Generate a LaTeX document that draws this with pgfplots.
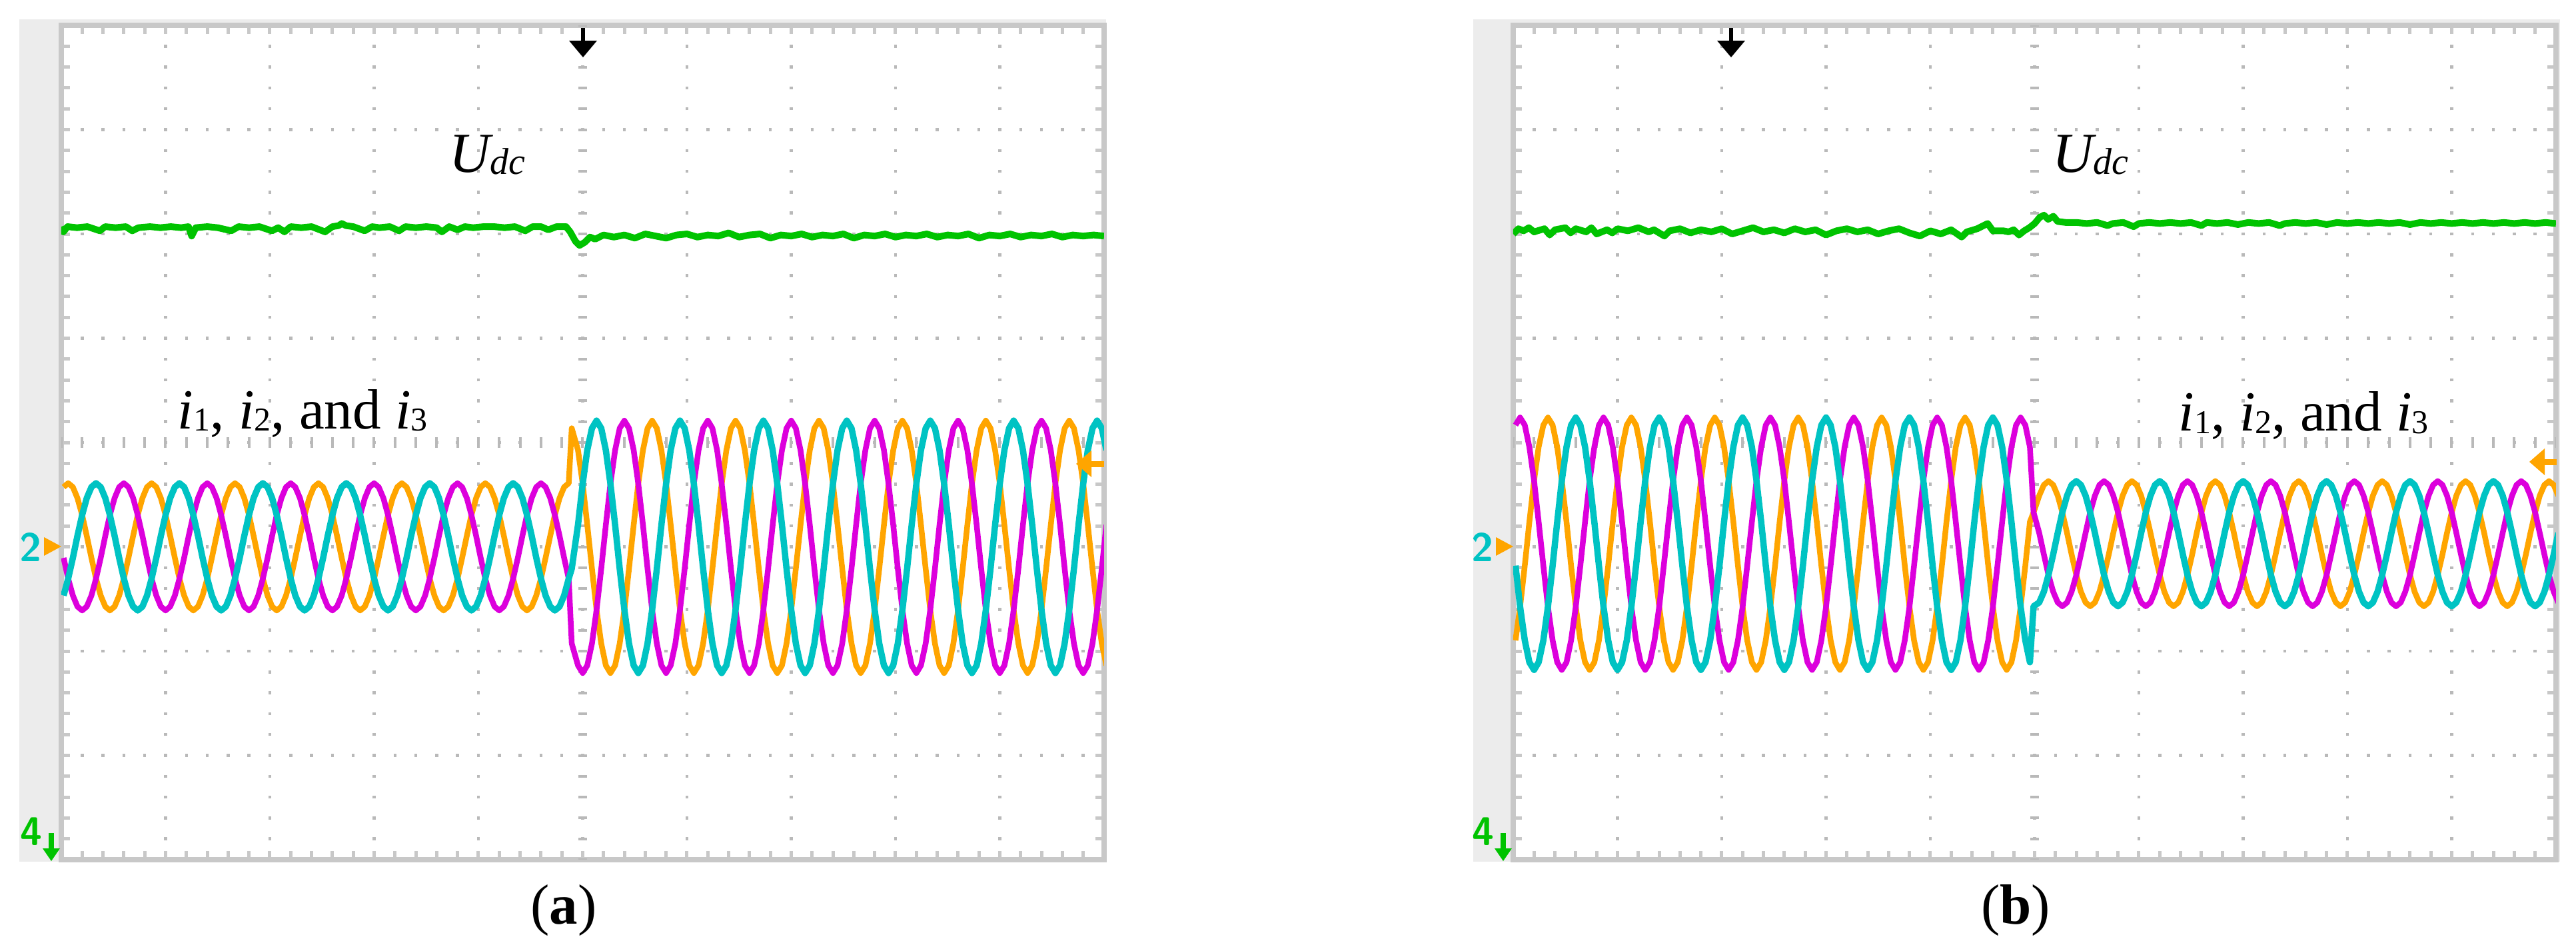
\documentclass[border=0pt]{standalone}
\usepackage{pgfplots}
\pgfplotsset{compat=1.18}
\usepackage{pgfplotstable}
\usepackage{fontspec}
\setmainfont{Liberation Serif}
\definecolor{cOr}{RGB}{255,165,0}
\definecolor{cTe}{RGB}{0,195,195}
\definecolor{cMa}{RGB}{220,0,220}
\definecolor{cGr}{RGB}{0,195,0}
\definecolor{cFr}{RGB}{200,200,200}
\definecolor{cDot}{RGB}{185,185,185}
\definecolor{cBg}{RGB}{236,236,236}

\pgfplotstableread{
x o t m
0.022 -0.427 -1.467 -1.106
0.066 -0.390 -1.305 -1.305
0.111 -0.427 -1.106 -1.467
0.155 -0.533 -0.894 -1.573
0.200 -0.695 -0.695 -1.610
0.244 -0.894 -0.533 -1.573
0.289 -1.106 -0.427 -1.467
0.333 -1.305 -0.390 -1.305
0.378 -1.467 -0.427 -1.106
0.422 -1.573 -0.533 -0.894
0.466 -1.610 -0.695 -0.695
0.511 -1.573 -0.894 -0.533
0.555 -1.467 -1.106 -0.427
0.600 -1.305 -1.305 -0.390
0.644 -1.106 -1.467 -0.427
0.689 -0.894 -1.573 -0.533
0.733 -0.695 -1.610 -0.695
0.778 -0.533 -1.573 -0.894
0.822 -0.427 -1.467 -1.106
0.866 -0.390 -1.305 -1.305
0.911 -0.427 -1.106 -1.467
0.955 -0.533 -0.894 -1.573
1.000 -0.695 -0.695 -1.610
1.044 -0.894 -0.533 -1.573
1.089 -1.106 -0.427 -1.467
1.133 -1.305 -0.390 -1.305
1.178 -1.467 -0.427 -1.106
1.222 -1.573 -0.533 -0.894
1.266 -1.610 -0.695 -0.695
1.311 -1.573 -0.894 -0.533
1.355 -1.467 -1.106 -0.427
1.400 -1.305 -1.305 -0.390
1.444 -1.106 -1.467 -0.427
1.489 -0.894 -1.573 -0.533
1.533 -0.695 -1.610 -0.695
1.578 -0.533 -1.573 -0.894
1.622 -0.427 -1.467 -1.106
1.666 -0.390 -1.305 -1.305
1.711 -0.427 -1.106 -1.467
1.755 -0.533 -0.894 -1.573
1.800 -0.695 -0.695 -1.610
1.844 -0.894 -0.533 -1.573
1.889 -1.106 -0.427 -1.467
1.933 -1.305 -0.390 -1.305
1.978 -1.467 -0.427 -1.106
2.022 -1.573 -0.533 -0.894
2.066 -1.610 -0.695 -0.695
2.111 -1.573 -0.894 -0.533
2.155 -1.467 -1.106 -0.427
2.200 -1.305 -1.305 -0.390
2.244 -1.106 -1.467 -0.427
2.289 -0.894 -1.573 -0.533
2.333 -0.695 -1.610 -0.695
2.378 -0.533 -1.573 -0.894
2.422 -0.427 -1.467 -1.106
2.466 -0.390 -1.305 -1.305
2.511 -0.427 -1.106 -1.467
2.555 -0.533 -0.894 -1.573
2.600 -0.695 -0.695 -1.610
2.644 -0.894 -0.533 -1.573
2.689 -1.106 -0.427 -1.467
2.733 -1.305 -0.390 -1.305
2.778 -1.467 -0.427 -1.106
2.822 -1.573 -0.533 -0.894
2.866 -1.610 -0.695 -0.695
2.911 -1.573 -0.894 -0.533
2.955 -1.467 -1.106 -0.427
3.000 -1.305 -1.305 -0.390
3.044 -1.106 -1.467 -0.427
3.089 -0.894 -1.573 -0.533
3.133 -0.695 -1.610 -0.695
3.178 -0.533 -1.573 -0.894
3.222 -0.427 -1.467 -1.106
3.266 -0.390 -1.305 -1.305
3.311 -0.427 -1.106 -1.467
3.355 -0.533 -0.894 -1.573
3.400 -0.695 -0.695 -1.610
3.444 -0.894 -0.533 -1.573
3.489 -1.106 -0.427 -1.467
3.533 -1.305 -0.390 -1.305
3.578 -1.467 -0.427 -1.106
3.622 -1.573 -0.533 -0.894
3.666 -1.610 -0.695 -0.695
3.711 -1.573 -0.894 -0.533
3.755 -1.467 -1.106 -0.427
3.800 -1.305 -1.305 -0.390
3.844 -1.106 -1.467 -0.427
3.889 -0.894 -1.573 -0.533
3.933 -0.695 -1.610 -0.695
3.978 -0.533 -1.573 -0.894
4.022 -0.427 -1.467 -1.106
4.066 -0.390 -1.305 -1.305
4.111 -0.427 -1.106 -1.467
4.155 -0.533 -0.894 -1.573
4.200 -0.695 -0.695 -1.610
4.244 -0.894 -0.533 -1.573
4.289 -1.106 -0.427 -1.467
4.333 -1.305 -0.390 -1.305
4.378 -1.467 -0.427 -1.106
4.422 -1.573 -0.533 -0.894
4.466 -1.610 -0.695 -0.695
4.511 -1.573 -0.894 -0.533
4.555 -1.467 -1.106 -0.427
4.600 -1.305 -1.305 -0.390
4.644 -1.106 -1.467 -0.427
4.689 -0.894 -1.573 -0.533
4.733 -0.695 -1.610 -0.695
4.778 -0.533 -1.573 -0.894
4.822 -0.427 -1.467 -1.106
4.866 -0.390 -1.305 -1.305
4.895 0.137 -1.210 -1.927
4.955 -0.073 -0.790 -2.137
5.000 -0.395 -0.395 -2.210
5.044 -0.790 -0.073 -2.137
5.089 -1.210 0.137 -1.927
5.133 -1.605 0.210 -1.605
5.178 -1.927 0.137 -1.210
5.222 -2.137 -0.073 -0.790
5.266 -2.210 -0.395 -0.395
5.311 -2.137 -0.790 -0.073
5.355 -1.927 -1.210 0.137
5.400 -1.605 -1.605 0.210
5.444 -1.210 -1.927 0.137
5.489 -0.790 -2.137 -0.073
5.533 -0.395 -2.210 -0.395
5.578 -0.073 -2.137 -0.790
5.622 0.137 -1.927 -1.210
5.666 0.210 -1.605 -1.605
5.711 0.137 -1.210 -1.927
5.755 -0.073 -0.790 -2.137
5.800 -0.395 -0.395 -2.210
5.844 -0.790 -0.073 -2.137
5.889 -1.210 0.137 -1.927
5.933 -1.605 0.210 -1.605
5.978 -1.927 0.137 -1.210
6.022 -2.137 -0.073 -0.790
6.066 -2.210 -0.395 -0.395
6.111 -2.137 -0.790 -0.073
6.155 -1.927 -1.210 0.137
6.200 -1.605 -1.605 0.210
6.244 -1.210 -1.927 0.137
6.289 -0.790 -2.137 -0.073
6.333 -0.395 -2.210 -0.395
6.378 -0.073 -2.137 -0.790
6.422 0.137 -1.927 -1.210
6.466 0.210 -1.605 -1.605
6.511 0.137 -1.210 -1.927
6.555 -0.073 -0.790 -2.137
6.600 -0.395 -0.395 -2.210
6.644 -0.790 -0.073 -2.137
6.689 -1.210 0.137 -1.927
6.733 -1.605 0.210 -1.605
6.778 -1.927 0.137 -1.210
6.822 -2.137 -0.073 -0.790
6.866 -2.210 -0.395 -0.395
6.911 -2.137 -0.790 -0.073
6.955 -1.927 -1.210 0.137
7.000 -1.605 -1.605 0.210
7.044 -1.210 -1.927 0.137
7.089 -0.790 -2.137 -0.073
7.133 -0.395 -2.210 -0.395
7.178 -0.073 -2.137 -0.790
7.222 0.137 -1.927 -1.210
7.266 0.210 -1.605 -1.605
7.311 0.137 -1.210 -1.927
7.355 -0.073 -0.790 -2.137
7.400 -0.395 -0.395 -2.210
7.444 -0.790 -0.073 -2.137
7.489 -1.210 0.137 -1.927
7.533 -1.605 0.210 -1.605
7.578 -1.927 0.137 -1.210
7.622 -2.137 -0.073 -0.790
7.666 -2.210 -0.395 -0.395
7.711 -2.137 -0.790 -0.073
7.755 -1.927 -1.210 0.137
7.800 -1.605 -1.605 0.210
7.844 -1.210 -1.927 0.137
7.889 -0.790 -2.137 -0.073
7.933 -0.395 -2.210 -0.395
7.978 -0.073 -2.137 -0.790
8.022 0.137 -1.927 -1.210
8.066 0.210 -1.605 -1.605
8.111 0.137 -1.210 -1.927
8.155 -0.073 -0.790 -2.137
8.200 -0.395 -0.395 -2.210
8.244 -0.790 -0.073 -2.137
8.289 -1.210 0.137 -1.927
8.333 -1.605 0.210 -1.605
8.378 -1.927 0.137 -1.210
8.422 -2.137 -0.073 -0.790
8.466 -2.210 -0.395 -0.395
8.511 -2.137 -0.790 -0.073
8.555 -1.927 -1.210 0.137
8.600 -1.605 -1.605 0.210
8.644 -1.210 -1.927 0.137
8.689 -0.790 -2.137 -0.073
8.733 -0.395 -2.210 -0.395
8.778 -0.073 -2.137 -0.790
8.822 0.137 -1.927 -1.210
8.866 0.210 -1.605 -1.605
8.911 0.137 -1.210 -1.927
8.955 -0.073 -0.790 -2.137
9.000 -0.395 -0.395 -2.210
9.044 -0.790 -0.073 -2.137
9.089 -1.210 0.137 -1.927
9.133 -1.605 0.210 -1.605
9.178 -1.927 0.137 -1.210
9.222 -2.137 -0.073 -0.790
9.266 -2.210 -0.395 -0.395
9.311 -2.137 -0.790 -0.073
9.355 -1.927 -1.210 0.137
9.400 -1.605 -1.605 0.210
9.444 -1.210 -1.927 0.137
9.489 -0.790 -2.137 -0.073
9.533 -0.395 -2.210 -0.395
9.578 -0.073 -2.137 -0.790
9.622 0.137 -1.927 -1.210
9.666 0.210 -1.605 -1.605
9.711 0.137 -1.210 -1.927
9.755 -0.073 -0.790 -2.137
9.800 -0.395 -0.395 -2.210
9.844 -0.790 -0.073 -2.137
9.889 -1.210 0.137 -1.927
9.933 -1.605 0.210 -1.605
9.978 -1.927 0.137 -1.210
10.022 -2.137 -0.073 -0.790
}\tA

\pgfplotstableread{
x o t m
0.022 -1.897 -1.180 0.167
0.066 -1.575 -1.575 0.240
0.111 -1.180 -1.897 0.167
0.155 -0.760 -2.107 -0.043
0.200 -0.365 -2.180 -0.365
0.244 -0.043 -2.107 -0.760
0.289 0.167 -1.897 -1.180
0.333 0.240 -1.575 -1.575
0.378 0.167 -1.180 -1.897
0.422 -0.043 -0.760 -2.107
0.466 -0.365 -0.365 -2.180
0.511 -0.760 -0.043 -2.107
0.555 -1.180 0.167 -1.897
0.600 -1.575 0.240 -1.575
0.644 -1.897 0.167 -1.180
0.689 -2.107 -0.043 -0.760
0.733 -2.180 -0.365 -0.365
0.778 -2.107 -0.760 -0.043
0.822 -1.897 -1.180 0.167
0.866 -1.575 -1.575 0.240
0.911 -1.180 -1.897 0.167
0.955 -0.760 -2.107 -0.043
1.000 -0.365 -2.180 -0.365
1.044 -0.043 -2.107 -0.760
1.089 0.167 -1.897 -1.180
1.133 0.240 -1.575 -1.575
1.178 0.167 -1.180 -1.897
1.222 -0.043 -0.760 -2.107
1.266 -0.365 -0.365 -2.180
1.311 -0.760 -0.043 -2.107
1.355 -1.180 0.167 -1.897
1.400 -1.575 0.240 -1.575
1.444 -1.897 0.167 -1.180
1.489 -2.107 -0.043 -0.760
1.533 -2.180 -0.365 -0.365
1.578 -2.107 -0.760 -0.043
1.622 -1.897 -1.180 0.167
1.666 -1.575 -1.575 0.240
1.711 -1.180 -1.897 0.167
1.755 -0.760 -2.107 -0.043
1.800 -0.365 -2.180 -0.365
1.844 -0.043 -2.107 -0.760
1.889 0.167 -1.897 -1.180
1.933 0.240 -1.575 -1.575
1.978 0.167 -1.180 -1.897
2.022 -0.043 -0.760 -2.107
2.066 -0.365 -0.365 -2.180
2.111 -0.760 -0.043 -2.107
2.155 -1.180 0.167 -1.897
2.200 -1.575 0.240 -1.575
2.244 -1.897 0.167 -1.180
2.289 -2.107 -0.043 -0.760
2.333 -2.180 -0.365 -0.365
2.378 -2.107 -0.760 -0.043
2.422 -1.897 -1.180 0.167
2.466 -1.575 -1.575 0.240
2.511 -1.180 -1.897 0.167
2.555 -0.760 -2.107 -0.043
2.600 -0.365 -2.180 -0.365
2.644 -0.043 -2.107 -0.760
2.689 0.167 -1.897 -1.180
2.733 0.240 -1.575 -1.575
2.778 0.167 -1.180 -1.897
2.822 -0.043 -0.760 -2.107
2.866 -0.365 -0.365 -2.180
2.911 -0.760 -0.043 -2.107
2.955 -1.180 0.167 -1.897
3.000 -1.575 0.240 -1.575
3.044 -1.897 0.167 -1.180
3.089 -2.107 -0.043 -0.760
3.133 -2.180 -0.365 -0.365
3.178 -2.107 -0.760 -0.043
3.222 -1.897 -1.180 0.167
3.266 -1.575 -1.575 0.240
3.311 -1.180 -1.897 0.167
3.355 -0.760 -2.107 -0.043
3.400 -0.365 -2.180 -0.365
3.444 -0.043 -2.107 -0.760
3.489 0.167 -1.897 -1.180
3.533 0.240 -1.575 -1.575
3.578 0.167 -1.180 -1.897
3.622 -0.043 -0.760 -2.107
3.666 -0.365 -0.365 -2.180
3.711 -0.760 -0.043 -2.107
3.755 -1.180 0.167 -1.897
3.800 -1.575 0.240 -1.575
3.844 -1.897 0.167 -1.180
3.889 -2.107 -0.043 -0.760
3.933 -2.180 -0.365 -0.365
3.978 -2.107 -0.760 -0.043
4.022 -1.897 -1.180 0.167
4.066 -1.575 -1.575 0.240
4.111 -1.180 -1.897 0.167
4.155 -0.760 -2.107 -0.043
4.200 -0.365 -2.180 -0.365
4.244 -0.043 -2.107 -0.760
4.289 0.167 -1.897 -1.180
4.333 0.240 -1.575 -1.575
4.378 0.167 -1.180 -1.897
4.422 -0.043 -0.760 -2.107
4.466 -0.365 -0.365 -2.180
4.511 -0.760 -0.043 -2.107
4.555 -1.180 0.167 -1.897
4.600 -1.575 0.240 -1.575
4.644 -1.897 0.167 -1.180
4.689 -2.107 -0.043 -0.760
4.733 -2.180 -0.365 -0.365
4.778 -2.107 -0.760 -0.043
4.822 -1.897 -1.180 0.167
4.866 -1.575 -1.575 0.240
4.911 -1.180 -1.897 0.167
4.955 -0.760 -2.107 -0.043
4.990 -0.670 -1.570 -0.670
5.044 -0.510 -1.534 -0.866
5.089 -0.406 -1.430 -1.074
5.133 -0.370 -1.270 -1.270
5.178 -0.406 -1.074 -1.430
5.222 -0.510 -0.866 -1.534
5.266 -0.670 -0.670 -1.570
5.311 -0.866 -0.510 -1.534
5.355 -1.074 -0.406 -1.430
5.400 -1.270 -0.370 -1.270
5.444 -1.430 -0.406 -1.074
5.489 -1.534 -0.510 -0.866
5.533 -1.570 -0.670 -0.670
5.578 -1.534 -0.866 -0.510
5.622 -1.430 -1.074 -0.406
5.666 -1.270 -1.270 -0.370
5.711 -1.074 -1.430 -0.406
5.755 -0.866 -1.534 -0.510
5.800 -0.670 -1.570 -0.670
5.844 -0.510 -1.534 -0.866
5.889 -0.406 -1.430 -1.074
5.933 -0.370 -1.270 -1.270
5.978 -0.406 -1.074 -1.430
6.022 -0.510 -0.866 -1.534
6.066 -0.670 -0.670 -1.570
6.111 -0.866 -0.510 -1.534
6.155 -1.074 -0.406 -1.430
6.200 -1.270 -0.370 -1.270
6.244 -1.430 -0.406 -1.074
6.289 -1.534 -0.510 -0.866
6.333 -1.570 -0.670 -0.670
6.378 -1.534 -0.866 -0.510
6.422 -1.430 -1.074 -0.406
6.466 -1.270 -1.270 -0.370
6.511 -1.074 -1.430 -0.406
6.555 -0.866 -1.534 -0.510
6.600 -0.670 -1.570 -0.670
6.644 -0.510 -1.534 -0.866
6.689 -0.406 -1.430 -1.074
6.733 -0.370 -1.270 -1.270
6.778 -0.406 -1.074 -1.430
6.822 -0.510 -0.866 -1.534
6.866 -0.670 -0.670 -1.570
6.911 -0.866 -0.510 -1.534
6.955 -1.074 -0.406 -1.430
7.000 -1.270 -0.370 -1.270
7.044 -1.430 -0.406 -1.074
7.089 -1.534 -0.510 -0.866
7.133 -1.570 -0.670 -0.670
7.178 -1.534 -0.866 -0.510
7.222 -1.430 -1.074 -0.406
7.266 -1.270 -1.270 -0.370
7.311 -1.074 -1.430 -0.406
7.355 -0.866 -1.534 -0.510
7.400 -0.670 -1.570 -0.670
7.444 -0.510 -1.534 -0.866
7.489 -0.406 -1.430 -1.074
7.533 -0.370 -1.270 -1.270
7.578 -0.406 -1.074 -1.430
7.622 -0.510 -0.866 -1.534
7.666 -0.670 -0.670 -1.570
7.711 -0.866 -0.510 -1.534
7.755 -1.074 -0.406 -1.430
7.800 -1.270 -0.370 -1.270
7.844 -1.430 -0.406 -1.074
7.889 -1.534 -0.510 -0.866
7.933 -1.570 -0.670 -0.670
7.978 -1.534 -0.866 -0.510
8.022 -1.430 -1.074 -0.406
8.066 -1.270 -1.270 -0.370
8.111 -1.074 -1.430 -0.406
8.155 -0.866 -1.534 -0.510
8.200 -0.670 -1.570 -0.670
8.244 -0.510 -1.534 -0.866
8.289 -0.406 -1.430 -1.074
8.333 -0.370 -1.270 -1.270
8.378 -0.406 -1.074 -1.430
8.422 -0.510 -0.866 -1.534
8.466 -0.670 -0.670 -1.570
8.511 -0.866 -0.510 -1.534
8.555 -1.074 -0.406 -1.430
8.600 -1.270 -0.370 -1.270
8.644 -1.430 -0.406 -1.074
8.689 -1.534 -0.510 -0.866
8.733 -1.570 -0.670 -0.670
8.778 -1.534 -0.866 -0.510
8.822 -1.430 -1.074 -0.406
8.866 -1.270 -1.270 -0.370
8.911 -1.074 -1.430 -0.406
8.955 -0.866 -1.534 -0.510
9.000 -0.670 -1.570 -0.670
9.044 -0.510 -1.534 -0.866
9.089 -0.406 -1.430 -1.074
9.133 -0.370 -1.270 -1.270
9.178 -0.406 -1.074 -1.430
9.222 -0.510 -0.866 -1.534
9.266 -0.670 -0.670 -1.570
9.311 -0.866 -0.510 -1.534
9.355 -1.074 -0.406 -1.430
9.400 -1.270 -0.370 -1.270
9.444 -1.430 -0.406 -1.074
9.489 -1.534 -0.510 -0.866
9.533 -1.570 -0.670 -0.670
9.578 -1.534 -0.866 -0.510
9.622 -1.430 -1.074 -0.406
9.666 -1.270 -1.270 -0.370
9.711 -1.074 -1.430 -0.406
9.755 -0.866 -1.534 -0.510
9.800 -0.670 -1.570 -0.670
9.844 -0.510 -1.534 -0.866
9.889 -0.406 -1.430 -1.074
9.933 -0.370 -1.270 -1.270
9.978 -0.406 -1.074 -1.430
10.022 -0.510 -0.866 -1.534
}\tB

\pgfplotsset{osc/.style={
  scale only axis, width=156.5pt, height=125.2pt,
  xmin=0, xmax=10, ymin=-4, ymax=4,
  xtick={0,1,...,10}, ytick={-4,-3,...,4},
  minor x tick num=4, minor y tick num=4,
  xticklabels={}, yticklabels={},
  tick align=inside, major tick length=1.3pt, minor tick length=1.3pt,
  tick style={cFr, line width=0.5pt},
  axis line style={cFr, line width=0.8pt},
  grid=major,
  major grid style={cDot, line width=0.45pt, dash pattern=on 0.45pt off 2.68pt, dash phase=0.225pt},
  axis background/.style={fill=white},
  trace/.style={sharp plot, no marks, line width=0.85pt, line join=round},
}}

\newcommand{\sub}[1]{\raisebox{-0.35pt}{\fontsize{5}{6}\selectfont #1}}
\newcommand{\Udc}{{\fontsize{8.5}{10}\selectfont\itshape U}\raisebox{-0.25pt}{\fontsize{5.6}{6}\selectfont\itshape dc}}
\newcommand{\ilab}{{\fontsize{8.5}{10}\selectfont\textit{i}\sub{1}, \textit{i}\sub{2}, and \textit{i}\sub{3}}}

\begin{document}
\begin{tikzpicture}
\useasboundingbox (0,0) rectangle (386.6pt,142.6pt);
\fill[white] (0,0) rectangle (386.6pt,142.6pt);
% grey surrounds
\fill[cBg] (2.9pt,13.3pt) rectangle (166.0pt,139.7pt);
\fill[cBg] (221.1pt,13.3pt) rectangle (384.2pt,139.7pt);

% ---------------- panel (a)
\begin{axis}[osc, at={(9.2pt,13.6pt)}, anchor=south west]
\draw[cDot, line width=1.3pt, dash pattern=on 0.4pt off 2.73pt, dash phase=0.2pt] (axis cs:5,-4) -- (axis cs:5,4);
\draw[cDot, line width=1.6pt, dash pattern=on 0.4pt off 2.73pt, dash phase=0.2pt] (axis cs:0,0) -- (axis cs:10,0);
\addplot[trace, cOr] table[x=x, y=o] {\tA};
\addplot[trace, cMa] table[x=x, y=m] {\tA};
\addplot[trace, cTe, line width=0.95pt] table[x=x, y=t] {\tA};
\addplot[cGr, no marks, line width=1.0pt, line join=round] coordinates {
(0,2.07)(0.02,2.02)(0.06,2.07)(0.15,2.06)(0.25,2.07)(0.37,2.03)(0.42,2.07)(0.52,2.06)(0.62,2.07)(0.68,2.03)(0.74,2.06)(0.85,2.07)(0.95,2.06)(1.05,2.07)(1.15,2.06)(1.22,2.07)(1.25,1.98)(1.29,2.06)(1.4,2.07)(1.5,2.06)(1.63,2.03)(1.7,2.07)(1.8,2.06)(1.9,2.07)(2.02,2.03)(2.08,2.06)(2.14,2.02)(2.2,2.07)(2.3,2.06)(2.4,2.07)(2.53,2.02)(2.6,2.07)(2.66,2.08)(2.69,2.10)(2.73,2.08)(2.8,2.07)(2.91,2.03)(2.98,2.07)(3.05,2.06)(3.15,2.07)(3.24,2.03)(3.3,2.07)(3.4,2.06)(3.5,2.07)(3.6,2.06)(3.65,2.02)(3.72,2.07)(3.8,2.04)(3.87,2.07)(3.95,2.06)(4.05,2.07)(4.15,2.07)(4.25,2.06)(4.35,2.07)(4.45,2.03)(4.52,2.07)(4.6,2.07)(4.67,2.04)(4.75,2.07)(4.84,2.07)(4.88,2.02)(4.93,1.93)(4.97,1.89)(5.02,1.92)(5.07,1.97)(5.12,1.95)(5.2,1.99)(5.3,1.97)(5.4,1.99)(5.5,1.96)(5.6,2.0)(5.7,1.98)(5.8,1.96)(5.9,1.99)(6.0,2.0)(6.1,1.97)(6.2,1.99)(6.3,1.98)(6.4,2.01)(6.5,1.97)(6.6,1.99)(6.7,2.0)(6.8,1.96)(6.9,1.99)(7.0,1.98)(7.1,2.0)(7.2,1.97)(7.3,1.99)(7.4,1.98)(7.5,2.0)(7.6,1.96)(7.7,1.99)(7.8,1.98)(7.9,2.0)(8.0,1.97)(8.1,1.99)(8.2,1.98)(8.3,2.0)(8.4,1.97)(8.5,1.99)(8.6,1.98)(8.7,2.0)(8.8,1.96)(8.9,1.99)(9.0,1.98)(9.1,2.0)(9.2,1.97)(9.3,1.99)(9.4,1.98)(9.5,2.0)(9.6,1.97)(9.7,1.99)(9.8,1.98)(9.9,1.99)(10,1.98)
};
\node[anchor=base west, inner sep=0pt] at (axis cs:3.71,2.59) {\Udc};
\node[anchor=base west, inner sep=0pt] at (axis cs:1.105,0.134) {\ilab};
\end{axis}

% ---------------- panel (b)
\begin{axis}[osc, at={(227.1pt,13.6pt)}, anchor=south west]
\draw[cDot, line width=1.3pt, dash pattern=on 0.4pt off 2.73pt, dash phase=0.2pt] (axis cs:5,-4) -- (axis cs:5,4);
\draw[cDot, line width=1.6pt, dash pattern=on 0.4pt off 2.73pt, dash phase=0.2pt] (axis cs:0,0) -- (axis cs:10,0);
\addplot[trace, cOr] table[x=x, y=o] {\tB};
\addplot[trace, cMa] table[x=x, y=m] {\tB};
\addplot[trace, cTe, line width=0.95pt] table[x=x, y=t] {\tB};
\addplot[cGr, no marks, line width=1.0pt, line join=round] coordinates {
(0,2.0)(0.05,2.05)(0.1,2.03)(0.15,2.06)(0.2,2.02)(0.3,2.05)(0.35,1.99)(0.4,2.04)(0.5,2.06)(0.55,2.01)(0.6,2.05)(0.7,2.02)(0.75,2.06)(0.8,2.0)(0.9,2.04)(0.95,2.01)(1.0,2.05)(1.1,2.03)(1.2,2.06)(1.3,2.02)(1.35,2.04)(1.45,1.98)(1.5,2.03)(1.6,2.05)(1.7,2.01)(1.8,2.04)(1.9,2.02)(2.0,2.05)(2.1,2.0)(2.2,2.03)(2.3,2.06)(2.4,2.02)(2.5,2.04)(2.6,2.01)(2.7,2.05)(2.8,2.02)(2.9,2.04)(3.0,1.99)(3.1,2.03)(3.2,2.05)(3.3,2.02)(3.4,2.04)(3.5,2.0)(3.6,2.03)(3.7,2.05)(3.8,2.01)(3.9,1.98)(4.0,2.03)(4.1,2.0)(4.2,2.04)(4.3,1.97)(4.35,2.02)(4.45,2.05)(4.55,2.1)(4.6,2.03)(4.7,2.03)(4.75,2.02)(4.8,2.04)(4.85,1.99)(4.9,2.03)(4.95,2.06)(5.0,2.1)(5.05,2.16)(5.09,2.18)(5.13,2.14)(5.18,2.17)(5.22,2.12)(5.3,2.11)(5.4,2.11)(5.5,2.1)(5.6,2.11)(5.7,2.08)(5.75,2.1)(5.85,2.11)(5.95,2.07)(6.0,2.1)(6.1,2.11)(6.2,2.1)(6.3,2.11)(6.4,2.1)(6.5,2.11)(6.6,2.08)(6.65,2.11)(6.75,2.1)(6.85,2.11)(6.95,2.09)(7.05,2.11)(7.15,2.1)(7.25,2.11)(7.35,2.08)(7.4,2.1)(7.5,2.11)(7.6,2.1)(7.7,2.11)(7.8,2.09)(7.9,2.11)(8.0,2.1)(8.1,2.11)(8.2,2.1)(8.3,2.11)(8.4,2.1)(8.5,2.11)(8.6,2.09)(8.7,2.11)(8.8,2.1)(8.9,2.11)(9.0,2.1)(9.1,2.11)(9.2,2.1)(9.3,2.11)(9.4,2.1)(9.5,2.11)(9.6,2.1)(9.7,2.11)(9.8,2.1)(9.9,2.11)(10,2.1)
};
\node[anchor=base west, inner sep=0pt] at (axis cs:5.16,2.59) {\Udc};
\node[anchor=base west, inner sep=0pt] at (axis cs:6.37,0.109) {\ilab};
\end{axis}

% ---------------- scope markers
% trigger position arrows (black)
\draw[line width=0.6pt] (87.5pt,138.4pt) -- (87.5pt,136.2pt);
\fill (85.4pt,136.5pt) -- (89.6pt,136.5pt) -- (87.5pt,134.0pt) -- cycle;
\draw[line width=0.6pt] (259.8pt,138.4pt) -- (259.8pt,136.2pt);
\fill (257.7pt,136.5pt) -- (261.9pt,136.5pt) -- (259.8pt,134.0pt) -- cycle;
% trigger level arrows (orange, right edge)
\fill[cOr] (161.5pt,73.0pt) -- (163.8pt,75.0pt) -- (163.8pt,71.0pt) -- cycle;
\draw[cOr, line width=0.9pt] (163.5pt,73.0pt) -- (165.7pt,73.0pt);
\fill[cOr] (379.6pt,73.3pt) -- (381.9pt,75.3pt) -- (381.9pt,71.3pt) -- cycle;
\draw[cOr, line width=0.9pt] (381.6pt,73.3pt) -- (383.7pt,73.3pt);
% channel markers (left)
\node[cTe, inner sep=0pt, font=\fontsize{6}{6}\selectfont\sffamily\bfseries] at (4.6pt,60.5pt) {2};
\fill[cOr] (6.6pt,62.0pt) -- (9.2pt,60.6pt) -- (6.6pt,59.2pt) -- cycle;
\node[cTe, inner sep=0pt, font=\fontsize{6}{6}\selectfont\sffamily\bfseries] at (222.5pt,60.5pt) {2};
\fill[cOr] (224.5pt,62.0pt) -- (227.1pt,60.6pt) -- (224.5pt,59.2pt) -- cycle;
% channel 4 ground markers (green)
\node[cGr, inner sep=0pt, font=\fontsize{6}{6}\selectfont\sffamily\bfseries] at (4.7pt,17.8pt) {4};
\draw[cGr, line width=0.8pt] (7.7pt,17.6pt) -- (7.7pt,15.0pt);
\fill[cGr] (6.4pt,15.3pt) -- (9.0pt,15.3pt) -- (7.7pt,13.4pt) -- cycle;
\node[cGr, inner sep=0pt, font=\fontsize{6}{6}\selectfont\sffamily\bfseries] at (222.6pt,17.8pt) {4};
\draw[cGr, line width=0.8pt] (225.6pt,17.6pt) -- (225.6pt,15.0pt);
\fill[cGr] (224.3pt,15.3pt) -- (226.9pt,15.3pt) -- (225.6pt,13.4pt) -- cycle;
% captions
\node[inner sep=0pt] at (84.6pt,6.0pt) {\fontsize{8.5}{10}\selectfont(\textbf{a})};
\node[inner sep=0pt] at (302.5pt,6.0pt) {\fontsize{8.5}{10}\selectfont(\textbf{b})};
\end{tikzpicture}
\end{document}
